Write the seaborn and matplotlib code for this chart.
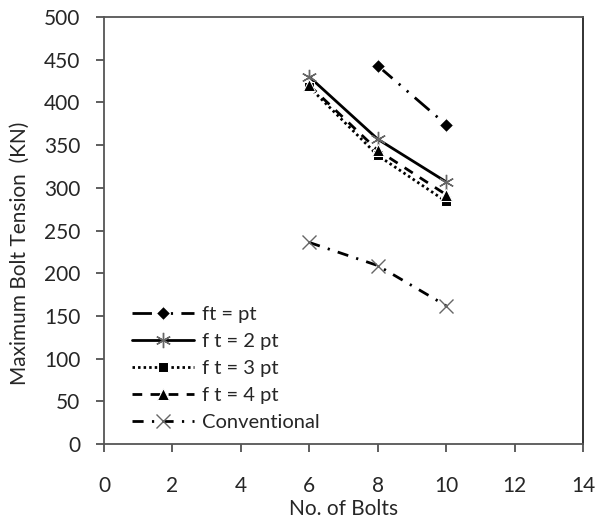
import matplotlib
matplotlib.use("Agg")
import matplotlib.pyplot as plt
import seaborn as sns
import pandas as pd

bolts = [6, 8, 10]
bolts_pt = [8, 10]
ft_pt = [443, 374]
ft_2pt = [430, 357, 307]
ft_3pt = [418, 338, 284]
ft_4pt = [420, 344, 292]
conventional = [236, 209, 162]
labels = ["ft = pt", "f t = 2 pt", "f t = 3 pt", "f t = 4 pt", "Conventional"]

sns.set_style("ticks")
plt.rcParams['font.family'] = ['Lato', 'DejaVu Sans']

fig = plt.figure(figsize=(5.97, 5.23), dpi=100)
ax = fig.add_axes([0.1742, 0.151, 0.8023, 0.8165])

series = [
    (bolts_pt, ft_pt, dict(color="black", lw=2.0, marker="D", ms=7, dashes=(7, 3, 0.8, 3, 0.8, 3))),
    (bolts, ft_2pt, dict(color="black", lw=2.0, marker=(6, 2, 0), ms=11, mew=1.0, mec="#666666")),
    (bolts, ft_3pt, dict(color="black", lw=2.0, marker="s", ms=7, dashes=(0.9, 1.1))),
    (bolts, ft_4pt, dict(color="black", lw=2.0, marker="^", ms=8, dashes=(3.5, 3))),
    (bolts, conventional, dict(color="black", lw=2.0, marker="x", ms=10, mew=1.0, mec="#666666", dashes=(4, 3, 0.8, 3))),
]
for (xs, ys, kw), lab in zip(series, labels):
    df = pd.DataFrame({"x": xs, "y": ys})
    sns.lineplot(data=df, x="x", y="y", ax=ax, label=lab, **kw)

ax.set_xlim(0, 14)
ax.set_ylim(0, 500)
ax.set_xticks(range(0, 15, 2))
ax.set_yticks(range(0, 501, 50))
for s in ax.spines.values():
    s.set_color("#555555")
    s.set_linewidth(1.3)
ax.spines["right"].set_color("#222222")
ax.tick_params(axis="both", colors="#333333", labelcolor="#262626", labelsize=15, length=6, width=1.1)
ax.tick_params(axis="x", pad=17)
ax.tick_params(axis="y", pad=11)
ax.set_xlabel("No. of Bolts", fontsize=15, labelpad=2, color="#262626")
ax.set_ylabel("Maximum Bolt Tension  (KN)", fontsize=15, color="#262626")
ax.yaxis.set_label_coords(-0.155, 0.447)

ax.legend(loc="lower left", bbox_to_anchor=(0.058, 0.03), frameon=False, fontsize=14.5,
          handlelength=3.1, handletextpad=0.4, labelspacing=0.5, borderaxespad=0, borderpad=0)

fig.savefig("out.png", dpi=100)
